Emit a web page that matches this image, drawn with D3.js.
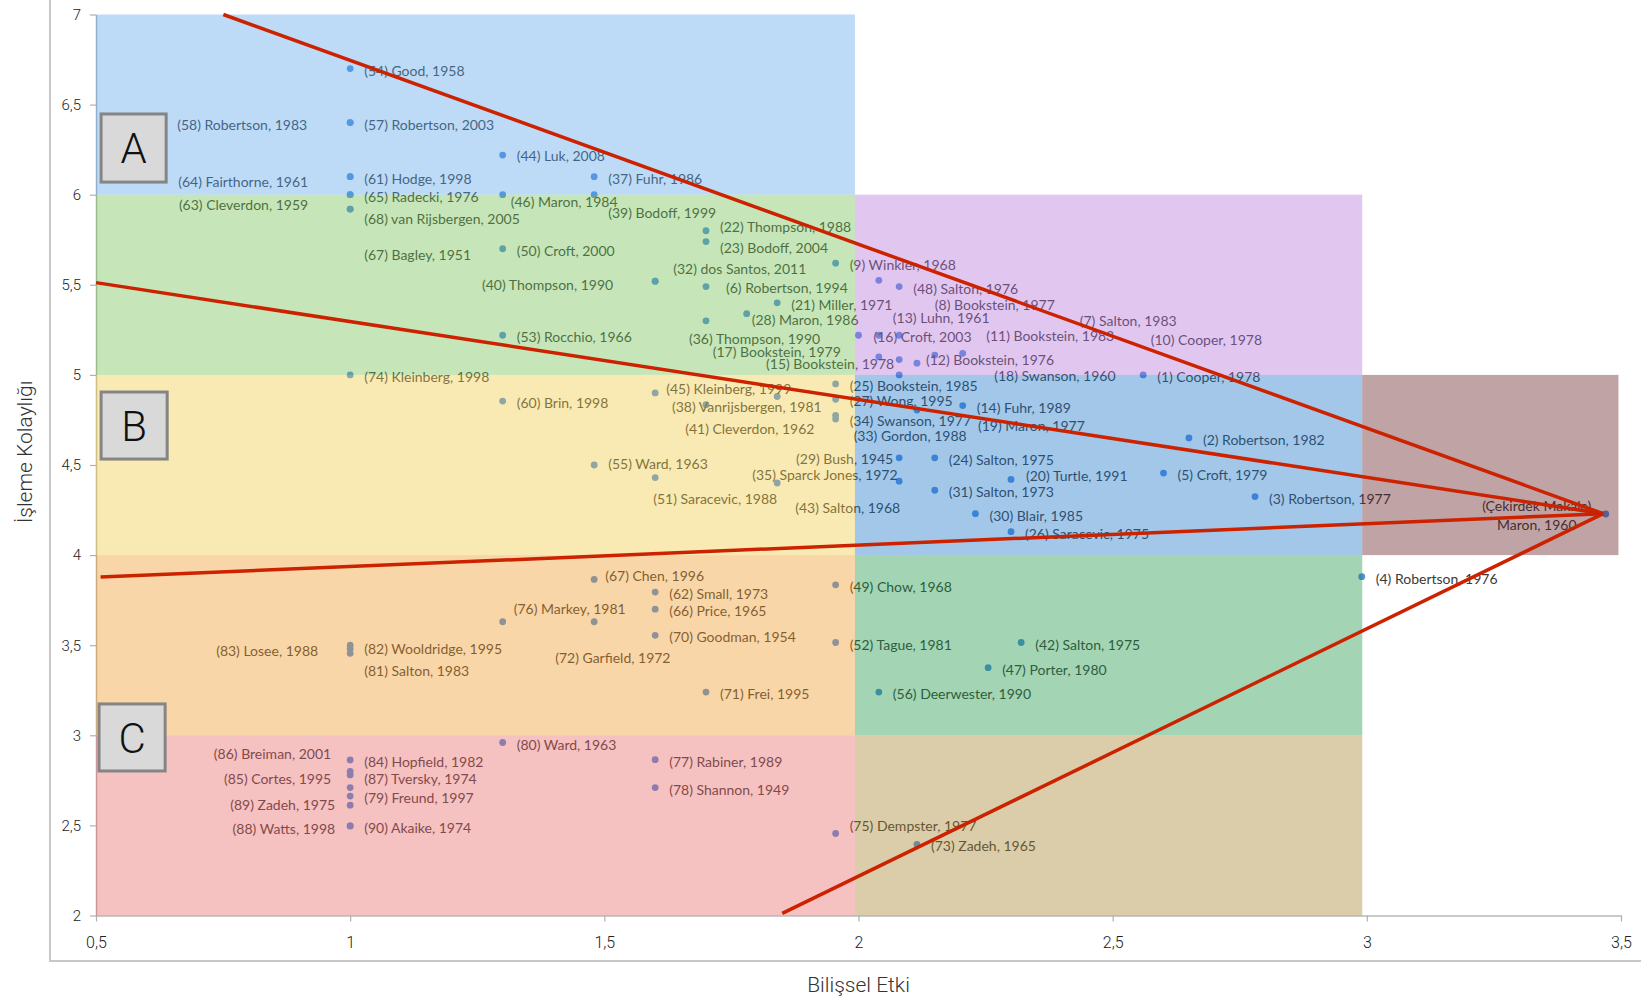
<!DOCTYPE html>
<html><head><meta charset="utf-8">
<script src="https://cdn.jsdelivr.net/npm/d3@7"></script>
<style>body{margin:0;background:#fff}svg{display:block}</style>
</head><body><svg id="chart" width="1641" height="999"></svg>
<script>
// ---------- DATA ----------
const pointLabels = [
"(1) Cooper, 1978","(2) Robertson, 1982","(3) Robertson, 1977","(4) Robertson, 1976","(5) Croft, 1979",
"(6) Robertson, 1994","(7) Salton, 1983","(8) Bookstein, 1977","(9) Winkler, 1968","(10) Cooper, 1978",
"(11) Bookstein, 1983","(12) Bookstein, 1976","(13) Luhn, 1961","(14) Fuhr, 1989","(15) Bookstein, 1978",
"(16) Croft, 2003","(17) Bookstein, 1979","(18) Swanson, 1960","(19) Maron, 1977","(20) Turtle, 1991",
"(21) Miller, 1971","(22) Thompson, 1988","(23) Bodoff, 2004","(24) Salton, 1975","(25) Bookstein, 1985",
"(26) Saracevic, 1975","(27) Wong, 1995","(28) Maron, 1986","(29) Bush, 1945","(30) Blair, 1985",
"(31) Salton, 1973","(32) dos Santos, 2011","(33) Gordon, 1988","(34) Swanson, 1977","(35) Sparck Jones, 1972",
"(36) Thompson, 1990","(37) Fuhr, 1986","(38) Vanrijsbergen, 1981","(39) Bodoff, 1999","(40) Thompson, 1990",
"(41) Cleverdon, 1962","(42) Salton, 1975","(43) Salton, 1968","(44) Luk, 2008","(45) Kleinberg, 1999",
"(46) Maron, 1984","(47) Porter, 1980","(48) Salton, 1976","(49) Chow, 1968","(50) Croft, 2000",
"(51) Saracevic, 1988","(52) Tague, 1981","(53) Rocchio, 1966","(54) Good, 1958","(55) Ward, 1963",
"(56) Deerwester, 1990","(57) Robertson, 2003","(58) Robertson, 1983","(60) Brin, 1998","(61) Hodge, 1998",
"(62) Small, 1973","(63) Cleverdon, 1959","(64) Fairthorne, 1961","(65) Radecki, 1976","(66) Price, 1965",
"(67) Bagley, 1951","(67) Chen, 1996","(68) van Rijsbergen, 2005","(70) Goodman, 1954","(71) Frei, 1995",
"(72) Garfield, 1972","(73) Zadeh, 1965","(74) Kleinberg, 1998","(75) Dempster, 1977","(76) Markey, 1981",
"(77) Rabiner, 1989","(78) Shannon, 1949","(79) Freund, 1997","(80) Ward, 1963","(81) Salton, 1983",
"(82) Wooldridge, 1995","(83) Losee, 1988","(84) Hopfield, 1982","(85) Cortes, 1995","(86) Breiman, 2001",
"(87) Tversky, 1974","(88) Watts, 1998","(89) Zadeh, 1975","(90) Akaike, 1974","(Çekirdek Makale)|Maron, 1960"
];
// Bilişsel Etki (x)
const cognitiveImpact = [
2.56,2.65,2.78,2.99,2.6,
1.7,2.15,2.04,1.955,2.205,
2.08,2.115,2.04,2.205,2.08,
2.0,2.04,2.08,2.115,2.3,
1.84,1.7,1.7,2.15,1.955,
2.3,1.955,1.78,2.08,2.23,
2.15,1.6,1.955,1.955,1.84,
1.7,1.48,1.7,1.48,1.6,
1.84,2.32,2.08,1.3,1.6,
1.3,2.255,2.08,1.955,1.3,
1.6,1.955,1.3,1.0,1.48,
2.04,1.0,1.0,1.3,1.0,
1.6,1.0,1.0,1.0,1.6,
1.0,1.48,1.0,1.6,1.7,
1.48,2.115,1.0,1.955,1.3,
1.6,1.6,1.0,1.3,1.0,
1.0,1.0,1.0,1.0,1.0,
1.0,1.0,1.0,1.0,3.47
];
// İşleme Kolaylığı (y)
const easeOfProcessing = [
5.0,4.65,4.325,3.88,4.455,
5.49,5.11,5.525,5.62,5.12,
5.22,5.065,5.22,4.83,5.085,
5.22,5.10,5.0,4.805,4.42,
5.40,5.80,5.74,4.54,4.95,
4.13,4.865,5.34,4.54,4.23,
4.36,5.52,4.775,4.755,4.40,
5.30,6.10,4.835,6.0,5.52,
4.88,3.515,4.41,6.22,4.90,
6.0,3.375,5.49,3.835,5.70,
4.43,3.515,5.22,6.70,4.50,
3.24,6.40,6.40,4.855,6.10,
3.795,6.0,6.10,6.0,3.70,
5.92,3.865,5.92,3.555,3.24,
3.63,2.395,5.0,2.455,3.63,
2.865,2.71,2.663,2.96,3.455,
3.50,3.48,2.863,2.71,2.80,
2.78,2.497,2.612,2.497,4.228
];
const xTicks = [0.5,1,1.5,2,2.5,3,3.5];
const yTicks = [2,2.5,3,3.5,4,4.5,5,5.5,6,6.5,7];
const xTitle = "Bilişsel Etki";
const yTitle = "İşleme Kolaylığı";
// zones [x0,x1,y0,y1] in data units
const zoneX0 = [0.5,0.5,1.993,0.5,1.993,2.991,0.5,1.993,0.5,1.993];
const zoneX1 = [1.993,1.993,2.991,1.993,2.991,3.495,1.993,2.991,1.993,2.991];
const zoneY0 = [6,5,5,4,4,4,3,3,2,2];
const zoneY1 = [7,6,6,5,5,5,4,4,3,3];
// red arrows: start points, all end at core
const arrowStartX = [0.7505,0.5,0.509,1.85];
const arrowStartY = [7,5.512,3.878,2.012];
const arrowEnd = [3.465,4.23];
// group boxes
const groupNames = ["A","B","C"];
const groupX0 = [0.51,0.51,0.506];
const groupX1 = [0.638,0.64,0.636];
const groupY0 = [6.448,4.905,3.174];
const groupY1 = [6.07,4.533,2.802];

// ---------- LAYOUT / STYLE ----------
const zoneColors = ["#5aa5eb","#70c150","#b473da","#f0ca43","#1973c6","#61191e","#f09825","#199444","#e86464","#a58228"];
const defaultNudge = [14,2,"start"];
const nudges = {
"(58) Robertson, 1983":[-43,2,"end"],"(64) Fairthorne, 1961":[-42,5,"end"],"(63) Cleverdon, 1959":[-42,10,"end"],
"(68) van Rijsbergen, 2005":[14,10],"(67) Bagley, 1951":[14,46],"(44) Luk, 2008":[14,1],
"(46) Maron, 1984":[8,7],"(39) Bodoff, 1999":[14,18],"(40) Thompson, 1990":[-42,4,"end"],
"(32) dos Santos, 2011":[18,-12],"(22) Thompson, 1988":[14,-4],"(23) Bodoff, 2004":[14,6],
"(6) Robertson, 1994":[20,1],"(28) Maron, 1986":[5,6],"(36) Thompson, 1990":[-17,18],
"(17) Bookstein, 1979":[-38,-5,"end"],"(15) Bookstein, 1978":[-5,4,"end"],"(8) Bookstein, 1977":[56,25],
"(16) Croft, 2003":[15,2],"(13) Luhn, 1961":[14,-17],"(11) Bookstein, 1983":[87,1],
"(7) Salton, 1983":[145,-34],"(10) Cooper, 1978":[188,-13],"(12) Bookstein, 1976":[9,-3],
"(18) Swanson, 1960":[95,1],"(45) Kleinberg, 1999":[11,-4],"(38) Vanrijsbergen, 1981":[-34,2],
"(41) Cleverdon, 1962":[-92,32],"(33) Gordon, 1988":[18,21],"(55) Ward, 1963":[14,-1],
"(51) Saracevic, 1988":[-2,21],"(35) Sparck Jones, 1972":[-25,-8],"(43) Salton, 1968":[-104,27],
"(29) Bush, 1945":[-6,1,"end"],"(19) Maron, 1977":[61,16],"(20) Turtle, 1991":[15,-3],
"(67) Chen, 1996":[11,-3],"(76) Markey, 1981":[11,-13],"(72) Garfield, 1972":[-39,36],
"(81) Salton, 1983":[14,18],"(82) Wooldridge, 1995":[14,4],"(83) Losee, 1988":[-32,2,"end"],
"(75) Dempster, 1977":[14,-8],"(86) Breiman, 2001":[-19,-17,"end"],"(85) Cortes, 1995":[-19,-9,"end"],
"(87) Tversky, 1974":[14,4],"(89) Zadeh, 1975":[-15,0,"end"],"(88) Watts, 1998":[-15,3,"end"],
"(Çekirdek Makale)|Maron, 1960":[-69,-8,"middle"]
};

const svg = d3.select("#chart");
const x = d3.scaleLinear().domain([0.5,3.5]).range([96,1621]);
const y = d3.scaleLinear().domain([2,7]).range([915.5,14.5]);
const fmt = d => String(d).replace(".", ",");
const axisFont = "'Helvetica Neue', Roboto, 'Liberation Sans', sans-serif";
const labelFont = "Lato, Carlito, Calibri, 'Open Sans', sans-serif";

// outer frame (L)
svg.append("path").attr("d","M50,0V961H1641").attr("fill","none").attr("stroke","#c8c8c8").attr("stroke-width",2);

// axes
const gy = svg.append("g").attr("transform",`translate(${x(0.5)},0)`)
  .call(d3.axisLeft(y).tickValues(yTicks).tickFormat(fmt).tickSize(6).tickSizeOuter(0).tickPadding(9));
const gx = svg.append("g").attr("transform",`translate(0,${y(2)})`)
  .call(d3.axisBottom(x).tickValues(xTicks).tickFormat(fmt).tickSize(6).tickSizeOuter(0).tickPadding(15));
[gx,gy].forEach(g=>{
  g.select(".domain").attr("stroke","#b8b8b8").attr("stroke-width",1.5);
  g.selectAll(".tick line").attr("stroke","#b0b0b0").attr("stroke-width",1.2);
  g.selectAll(".tick text").attr("fill","#222").style("font-family",axisFont).style("font-weight",300);
});
gy.selectAll(".tick text").style("font-size","15px");
gx.selectAll(".tick text").style("font-size","16px");

svg.append("text").attr("x",(x(0.5)+x(3.5))/2).attr("y",992).attr("text-anchor","middle")
  .style("font-family",axisFont).style("font-weight",300).style("font-size","21px").attr("fill","#333").text(xTitle);
svg.append("text").attr("transform","translate(32,452) rotate(-90)").attr("text-anchor","middle")
  .style("font-family",axisFont).style("font-weight",300).style("font-size","21px").attr("fill","#333").text(yTitle);

// points
const pts = pointLabels.map((l,i)=>({label:l, cx:cognitiveImpact[i], cy:easeOfProcessing[i]}));
svg.append("g").selectAll("circle").data(pts).join("circle")
  .attr("cx",d=>x(d.cx)).attr("cy",d=>y(d.cy)).attr("r",3.4).attr("fill","#508ee1");

// labels
const lg = svg.append("g").style("font-family",labelFont).style("font-size","14px").attr("fill","#3a3a3a");
pts.forEach(d=>{
  const n = nudges[d.label] || defaultNudge;
  const t = lg.append("text").attr("x",x(d.cx)+n[0]).attr("y",y(d.cy)+n[1])
    .attr("dy","0.36em").attr("text-anchor",n[2]||"start");
  const parts = d.label.split("|");
  if(parts.length===1){ t.text(parts[0]); }
  else parts.forEach((p,k)=>t.append("tspan").attr("x",x(d.cx)+n[0]).attr("dy",k===0?"0.36em":"1.33em").text(p));
});

// translucent zones on top
svg.append("g").selectAll("rect").data(zoneX0).join("rect")
  .attr("x",(d,i)=>x(zoneX0[i])).attr("width",(d,i)=>x(zoneX1[i])-x(zoneX0[i]))
  .attr("y",(d,i)=>y(zoneY1[i])).attr("height",(d,i)=>y(zoneY0[i])-y(zoneY1[i]))
  .attr("fill",(d,i)=>zoneColors[i]).attr("fill-opacity",0.4);

// red arrows
svg.append("g").selectAll("line").data(arrowStartX).join("line")
  .attr("x1",(d,i)=>x(arrowStartX[i])).attr("y1",(d,i)=>y(arrowStartY[i]))
  .attr("x2",x(arrowEnd[0])).attr("y2",y(arrowEnd[1]))
  .attr("stroke","#cc2200").attr("stroke-width",3.5).attr("stroke-linecap","butt");

// group boxes
const gb = svg.append("g");
groupNames.forEach((g,i)=>{
  const bx=x(groupX0[i]), by=y(groupY0[i]), bw=x(groupX1[i])-bx, bh=y(groupY1[i])-by;
  gb.append("rect").attr("x",bx).attr("y",by).attr("width",bw).attr("height",bh)
    .attr("fill","#d9d9d9").attr("stroke","#858585").attr("stroke-width",3);
  gb.append("text").attr("x",bx+bw/2).attr("y",by+bh/2).attr("dy","0.36em").attr("text-anchor","middle")
    .style("font-family",axisFont).style("font-weight",300).style("font-size","42px").attr("fill","#111").text(g);
});
</script></body></html>
